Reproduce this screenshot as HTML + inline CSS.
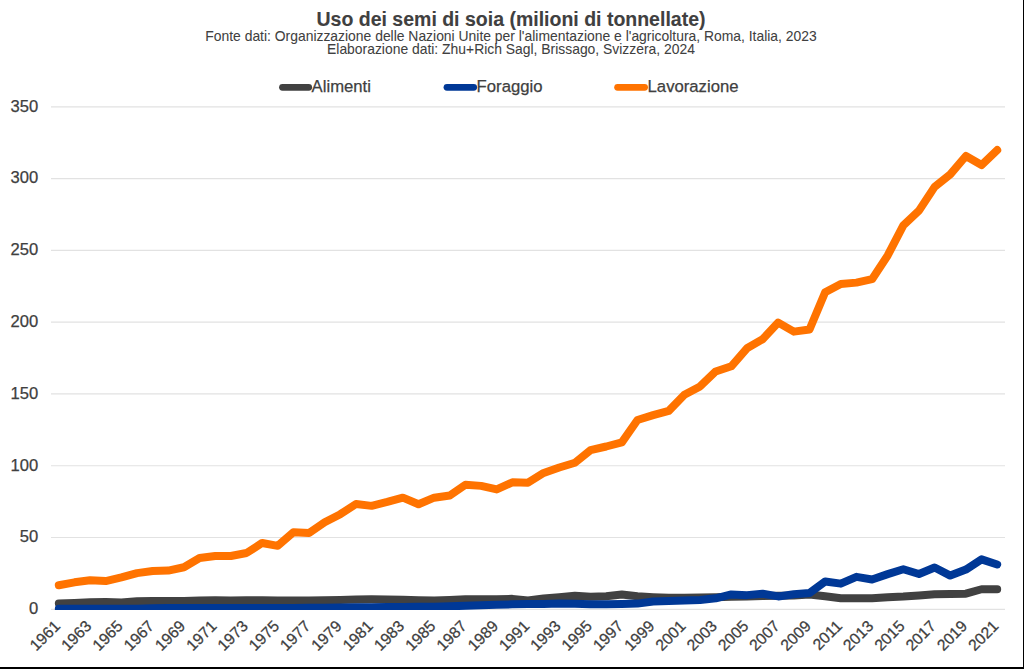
<!DOCTYPE html>
<html><head><meta charset="utf-8">
<style>
html,body{margin:0;padding:0;background:#fff;}
body{width:1024px;height:669px;overflow:hidden;position:relative;}
svg{position:absolute;left:0;top:0;}
text{stroke:#404040;stroke-width:0.25px;}
</style></head>
<body>
<svg width="1024" height="669" viewBox="0 0 1024 669" font-family='"Liberation Sans", sans-serif'>
<rect x="0" y="0" width="1024" height="669" fill="#fff"/>
<g fill="#404040">
<text x="511" y="25.5" font-size="19.5" font-weight="bold" style="stroke-width:0.1px" text-anchor="middle">Uso dei semi di soia (milioni di tonnellate)</text>
<text x="511" y="40.5" font-size="13.9" style="stroke-width:0.05px" text-anchor="middle">Fonte dati: Organizzazione delle Nazioni Unite per l'alimentazione e l'agricoltura, Roma, Italia, 2023</text>
<text x="511" y="54.3" font-size="13.9" style="stroke-width:0.05px" text-anchor="middle">Elaborazione dati: Zhu+Rich Sagl, Brissago, Svizzera, 2024</text>
</g>
<g stroke-linecap="round" stroke-width="6.8">
<line x1="282.5" y1="87.3" x2="308.7" y2="87.3" stroke="#414141"/>
<line x1="447" y1="87.3" x2="473.7" y2="87.3" stroke="#003896"/>
<line x1="617.6" y1="87.3" x2="644.6" y2="87.3" stroke="#ff7300"/>
</g>
<g fill="#404040" font-size="16.7">
<text x="311.6" y="91.6">Alimenti</text>
<text x="476.6" y="91.6">Foraggio</text>
<text x="647.6" y="91.6">Lavorazione</text>
</g>
<line x1="51.0" y1="609.30" x2="1005.0" y2="609.30" stroke="#e2e2e2" stroke-width="1.2"/><line x1="51.0" y1="537.52" x2="1005.0" y2="537.52" stroke="#e2e2e2" stroke-width="1.2"/><line x1="51.0" y1="465.75" x2="1005.0" y2="465.75" stroke="#e2e2e2" stroke-width="1.2"/><line x1="51.0" y1="393.97" x2="1005.0" y2="393.97" stroke="#e2e2e2" stroke-width="1.2"/><line x1="51.0" y1="322.20" x2="1005.0" y2="322.20" stroke="#e2e2e2" stroke-width="1.2"/><line x1="51.0" y1="250.42" x2="1005.0" y2="250.42" stroke="#e2e2e2" stroke-width="1.2"/><line x1="51.0" y1="178.65" x2="1005.0" y2="178.65" stroke="#e2e2e2" stroke-width="1.2"/><line x1="51.0" y1="106.87" x2="1005.0" y2="106.87" stroke="#e2e2e2" stroke-width="1.2"/>
<g fill="#404040" font-size="16.6">
<text x="38.2" y="614.10" text-anchor="end">0</text><text x="38.2" y="542.32" text-anchor="end">50</text><text x="38.2" y="470.55" text-anchor="end">100</text><text x="38.2" y="398.77" text-anchor="end">150</text><text x="38.2" y="327.00" text-anchor="end">200</text><text x="38.2" y="255.22" text-anchor="end">250</text><text x="38.2" y="183.45" text-anchor="end">300</text><text x="38.2" y="111.67" text-anchor="end">350</text>
</g>
<g fill="#404040" font-size="15.8">
<text transform="translate(61.22,627.00) rotate(-45)" text-anchor="end">1961</text><text transform="translate(92.50,627.00) rotate(-45)" text-anchor="end">1963</text><text transform="translate(123.78,627.00) rotate(-45)" text-anchor="end">1965</text><text transform="translate(155.06,627.00) rotate(-45)" text-anchor="end">1967</text><text transform="translate(186.33,627.00) rotate(-45)" text-anchor="end">1969</text><text transform="translate(217.61,627.00) rotate(-45)" text-anchor="end">1971</text><text transform="translate(248.89,627.00) rotate(-45)" text-anchor="end">1973</text><text transform="translate(280.17,627.00) rotate(-45)" text-anchor="end">1975</text><text transform="translate(311.45,627.00) rotate(-45)" text-anchor="end">1977</text><text transform="translate(342.73,627.00) rotate(-45)" text-anchor="end">1979</text><text transform="translate(374.01,627.00) rotate(-45)" text-anchor="end">1981</text><text transform="translate(405.29,627.00) rotate(-45)" text-anchor="end">1983</text><text transform="translate(436.56,627.00) rotate(-45)" text-anchor="end">1985</text><text transform="translate(467.84,627.00) rotate(-45)" text-anchor="end">1987</text><text transform="translate(499.12,627.00) rotate(-45)" text-anchor="end">1989</text><text transform="translate(530.40,627.00) rotate(-45)" text-anchor="end">1991</text><text transform="translate(561.68,627.00) rotate(-45)" text-anchor="end">1993</text><text transform="translate(592.96,627.00) rotate(-45)" text-anchor="end">1995</text><text transform="translate(624.24,627.00) rotate(-45)" text-anchor="end">1997</text><text transform="translate(655.51,627.00) rotate(-45)" text-anchor="end">1999</text><text transform="translate(686.79,627.00) rotate(-45)" text-anchor="end">2001</text><text transform="translate(718.07,627.00) rotate(-45)" text-anchor="end">2003</text><text transform="translate(749.35,627.00) rotate(-45)" text-anchor="end">2005</text><text transform="translate(780.63,627.00) rotate(-45)" text-anchor="end">2007</text><text transform="translate(811.91,627.00) rotate(-45)" text-anchor="end">2009</text><text transform="translate(843.19,627.00) rotate(-45)" text-anchor="end">2011</text><text transform="translate(874.47,627.00) rotate(-45)" text-anchor="end">2013</text><text transform="translate(905.74,627.00) rotate(-45)" text-anchor="end">2015</text><text transform="translate(937.02,627.00) rotate(-45)" text-anchor="end">2017</text><text transform="translate(968.30,627.00) rotate(-45)" text-anchor="end">2019</text><text transform="translate(999.58,627.00) rotate(-45)" text-anchor="end">2021</text>
</g>
<defs><clipPath id="pc"><rect x="51.0" y="0" width="964.0" height="610"/></clipPath></defs>
<g fill="none" stroke-width="8" stroke-linecap="round" stroke-linejoin="round" clip-path="url(#pc)">
<path d="M58.82,603.46 L74.46,602.89 L90.10,602.31 L105.74,602.03 L121.38,602.46 L137.02,601.31 L152.66,601.02 L168.30,600.88 L183.93,601.02 L199.57,600.59 L215.21,600.30 L230.85,600.59 L246.49,600.16 L262.13,600.30 L277.77,600.44 L293.41,600.44 L309.05,600.59 L324.69,600.30 L340.33,600.01 L355.97,599.44 L371.61,599.29 L387.25,599.44 L402.89,599.73 L418.52,600.16 L434.16,600.59 L449.80,600.01 L465.44,599.29 L481.08,599.29 L496.72,599.29 L512.36,598.86 L528.00,600.44 L543.64,598.43 L559.28,597.14 L574.92,595.70 L590.56,596.71 L606.20,596.28 L621.84,594.55 L637.48,596.28 L653.11,597.14 L668.75,597.71 L684.39,597.71 L700.03,597.57 L715.67,597.28 L731.31,596.85 L746.95,596.56 L762.59,595.99 L778.23,595.70 L793.87,595.41 L809.51,594.55 L825.15,596.28 L840.79,598.29 L856.43,598.29 L872.07,598.14 L887.70,597.28 L903.34,596.56 L918.98,595.41 L934.62,594.26 L950.26,593.98 L965.90,593.69 L981.54,589.23 L997.18,589.23" stroke="#414141"/>
<path d="M58.82,608.78 L74.46,608.78 L90.10,608.78 L105.74,608.78 L121.38,608.78 L137.02,608.78 L152.66,608.35 L168.30,608.06 L183.93,607.92 L199.57,607.92 L215.21,607.92 L230.85,607.92 L246.49,607.92 L262.13,607.92 L277.77,607.92 L293.41,607.92 L309.05,607.78 L324.69,607.63 L340.33,607.49 L355.97,607.34 L371.61,607.20 L387.25,607.06 L402.89,606.91 L418.52,606.77 L434.16,606.63 L449.80,606.34 L465.44,605.76 L481.08,605.19 L496.72,604.76 L512.36,604.33 L528.00,604.04 L543.64,603.89 L559.28,603.61 L574.92,603.75 L590.56,604.33 L606.20,604.33 L621.84,604.04 L637.48,603.61 L653.11,601.45 L668.75,601.02 L684.39,600.59 L700.03,600.01 L715.67,598.29 L731.31,594.41 L746.95,595.13 L762.59,593.69 L778.23,596.42 L793.87,594.26 L809.51,592.97 L825.15,581.47 L840.79,583.63 L856.43,576.87 L872.07,579.46 L887.70,574.14 L903.34,569.25 L918.98,574.00 L934.62,567.53 L950.26,575.58 L965.90,569.54 L981.54,559.33 L997.18,564.51" stroke="#003896"/>
<path d="M58.82,585.21 L74.46,582.33 L90.10,580.18 L105.74,581.04 L121.38,577.45 L137.02,573.13 L152.66,570.98 L168.30,570.55 L183.93,567.24 L199.57,558.04 L215.21,556.03 L230.85,556.03 L246.49,553.01 L262.13,542.95 L277.77,545.82 L293.41,532.17 L309.05,533.03 L324.69,522.25 L340.33,514.20 L355.97,503.99 L371.61,505.86 L387.25,501.98 L402.89,497.67 L418.52,504.28 L434.16,497.67 L449.80,495.51 L465.44,484.73 L481.08,485.88 L496.72,489.47 L512.36,482.29 L528.00,482.72 L543.64,472.94 L559.28,467.48 L574.92,462.74 L590.56,450.09 L606.20,446.50 L621.84,442.33 L637.48,420.05 L653.11,415.16 L668.75,410.85 L684.39,394.75 L700.03,386.41 L715.67,371.46 L731.31,366.29 L746.95,348.32 L762.59,339.26 L778.23,322.59 L793.87,331.65 L809.51,329.49 L825.15,292.26 L840.79,284.07 L856.43,282.63 L872.07,279.18 L887.70,255.46 L903.34,225.42 L918.98,210.61 L934.62,186.90 L950.26,174.39 L965.90,155.99 L981.54,165.05 L997.18,150.10" stroke="#ff7300"/>
</g>
<rect x="1023" y="0" width="1" height="669" fill="#000"/>
<rect x="0" y="667" width="1024" height="2" fill="#000"/>
</svg>
</body></html>
